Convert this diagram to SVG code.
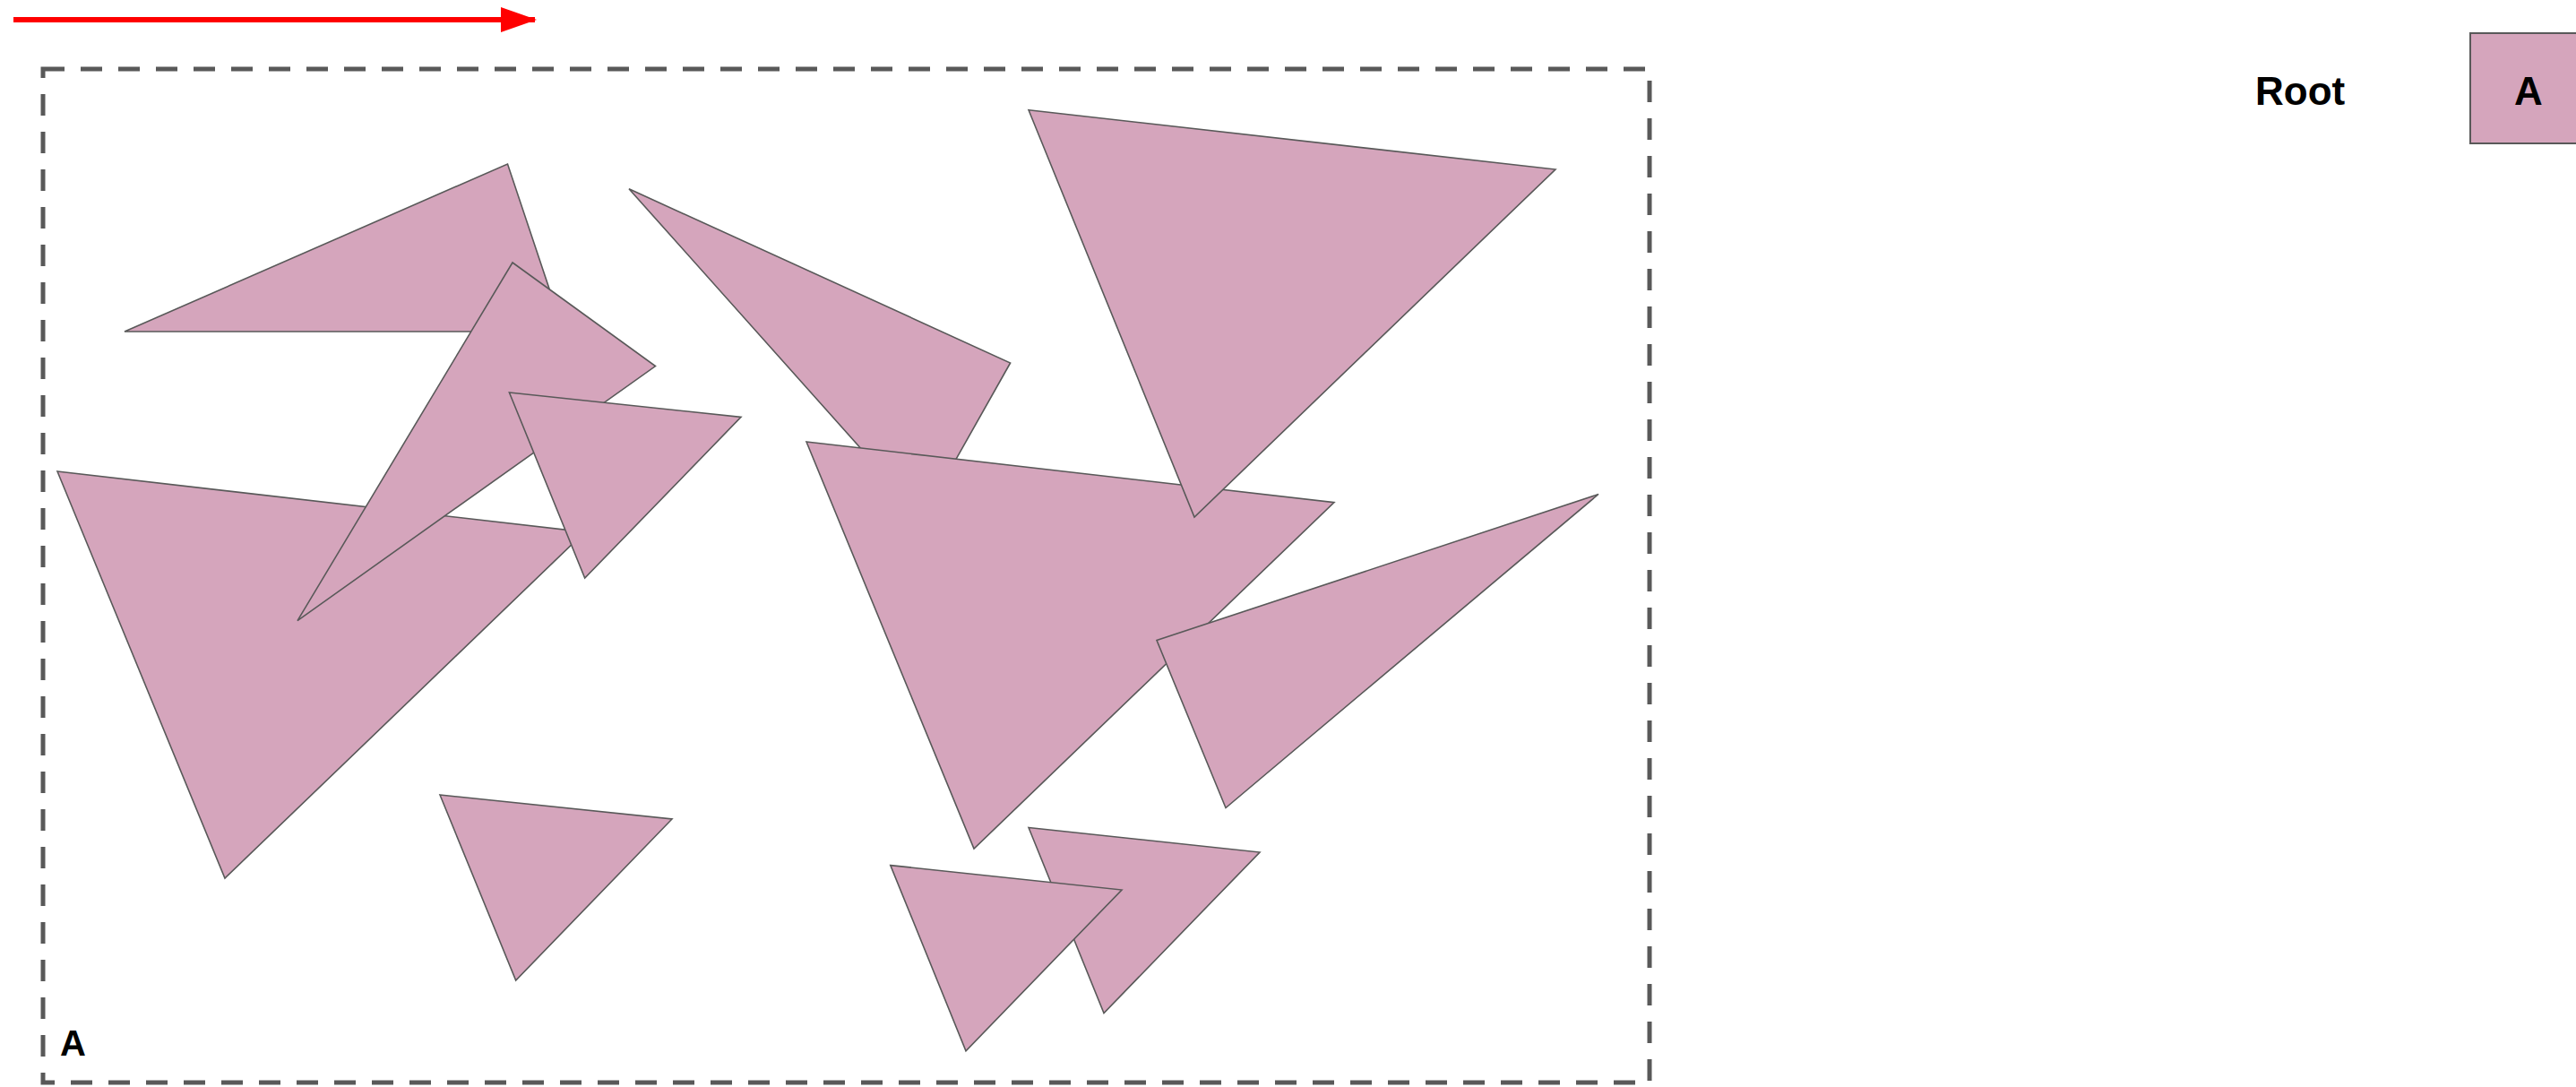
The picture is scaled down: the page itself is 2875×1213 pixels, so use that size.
<svg xmlns="http://www.w3.org/2000/svg" width="2875" height="1213" viewBox="0 0 2875 1213">
<defs>
<style>
.tri{fill:#D5A5BC;stroke:#595959;stroke-width:1.6;stroke-linejoin:miter}
.lbl{font-family:"Liberation Sans",Arial,sans-serif;font-weight:bold;fill:#000}
.frame{fill:none;stroke:#595959;stroke-width:5;stroke-dasharray:24 18}
</style>
<marker id="ah" markerWidth="40" markerHeight="28" refX="38" refY="14" orient="auto" markerUnits="userSpaceOnUse"><path d="M0,0 L40,14 L0,28 Z" fill="#FF0000"/></marker>
</defs>
<rect width="2875" height="1213" fill="#FFFFFF"/>
<g id="connectors">
<line x1="15" y1="22" x2="597" y2="22" stroke="#FF0000" stroke-width="6" marker-end="url(#ah)"/>
</g>
<g id="group-A">
<rect class="frame" x="48" y="77" width="1793" height="1131"/>
<text class="lbl" x="67" y="1178" font-size="40">A</text>
</g>
<g id="shapes">
<polygon id="t1" class="tri" points="139,370 566.5,183 629,370"/>
<polygon id="t3" class="tri" points="64,526 652.7,593.7 251,980"/>
<polygon id="t2" class="tri" points="572,293 731.5,408.6 332,692.6"/>
<polygon id="t4" class="tri" points="568.4,438 827,465.4 652.7,645"/>
<polygon id="t5" class="tri" points="702,210.7 1127.6,405 1030,578"/>
<polygon id="t7" class="tri" points="900,493 1489,560.7 1087,947"/>
<polygon id="t8" class="tri" points="1148,122.8 1736,189 1333,577"/>
<polygon id="t6" class="tri" points="1784,551.5 1291,714.6 1368,901.5"/>
<polygon id="t9" class="tri" points="491,887 750,914 575.7,1094"/>
<polygon id="t10" class="tri" points="1148,923.5 1406,951 1232,1130.5"/>
<polygon id="t11" class="tri" points="993.8,965.6 1252,993 1078,1172.7"/>
</g>
<g id="legend">
<text class="lbl" x="2517" y="117" font-size="44">Root</text>
<g id="legend-A">
<rect x="2757" y="37" width="125" height="123" fill="#D5A5BC" stroke="#595959" stroke-width="2"/>
<text class="lbl" x="2822" y="117" font-size="44" text-anchor="middle">A</text>
</g>
</g>
</svg>
